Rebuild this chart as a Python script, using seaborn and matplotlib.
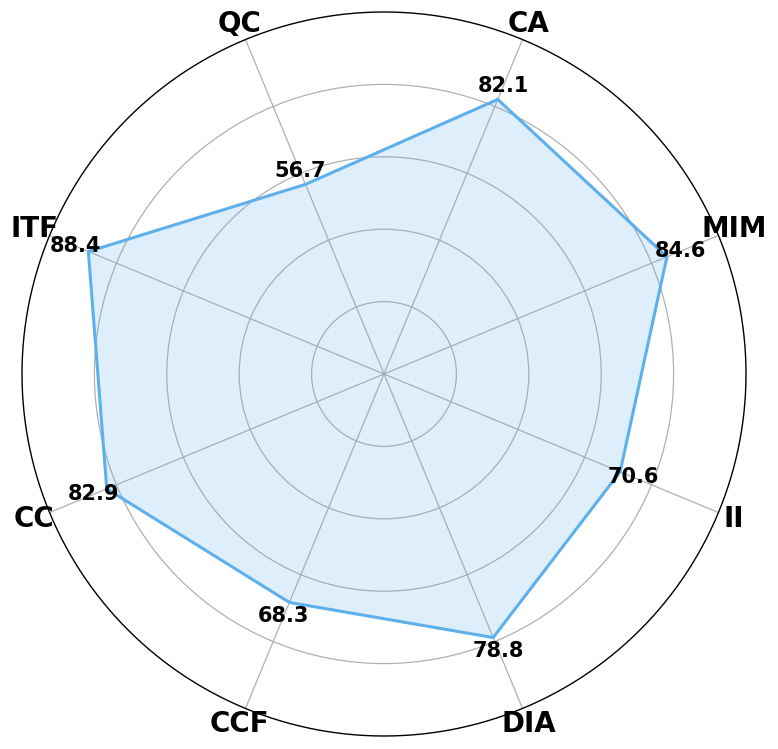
import numpy as np
import pandas as pd
import matplotlib
matplotlib.use("Agg")
import matplotlib.pyplot as plt
import seaborn as sns

# categories, clockwise starting just right of top
categories = ["CA", "MIM", "II", "DIA", "CCF", "CC", "ITF", "QC"]
values = [82.1, 84.6, 70.6, 78.8, 68.3, 82.9, 88.4, 56.7]

sns.set_style("white")

n = len(categories)
angles = [np.pi / 8 + i * 2 * np.pi / n for i in range(n)]

# close the polygon
df = pd.DataFrame({
    "angle": angles + [angles[0] + 2 * np.pi],
    "value": values + [values[0]],
})

fig = plt.figure(figsize=(7.78, 7.49), dpi=100)
ax = fig.add_axes([22 / 778, 13 / 749, 724 / 778, 724 / 749], projection="polar")
ax.set_theta_offset(np.pi / 2)
ax.set_theta_direction(-1)
ax.patch.set_edgecolor("none")

line_color = "#5EB0EC"
ax.fill(df["angle"], df["value"], color=line_color, alpha=0.2, linewidth=0)
sns.lineplot(data=df, x="angle", y="value", ax=ax, sort=False, estimator=None,
             color=line_color, linewidth=2.2)

ax.set_ylim(0, 100)
ax.set_yticks([20, 40, 60, 80])
ax.set_yticklabels([])
ax.set_xticks(angles)
ax.set_xticklabels(categories, fontsize=20, fontweight="bold", color="black")
ax.tick_params(axis="x", pad=5)
ax.tick_params(which="both", length=0, width=0)
ax.grid(True, color="#b0b0b0", linewidth=0.9)

# outer ring drawn by hand, seam moved away from the top
ax.spines["polar"].set_visible(False)
ring = np.linspace(np.pi / 2, np.pi / 2 + 2 * np.pi, 721)
ax.plot(ring, np.full_like(ring, 100), color="black", linewidth=1.0,
        clip_on=False, solid_capstyle="butt", solid_joinstyle="round")
ax.set_xlabel("")
ax.set_ylabel("")

for a, v in zip(angles, values):
    ax.text(a, v + 4, f"{v:.1f}", ha="center", va="center",
            fontsize=15, fontweight="bold", color="black")

fig.savefig("out.png", dpi=100)
